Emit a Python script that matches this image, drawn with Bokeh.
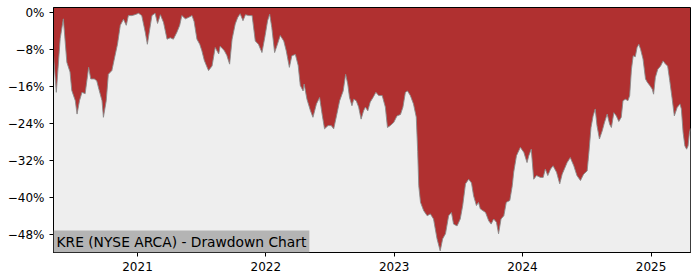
from bokeh.plotting import figure
from bokeh.models import Range1d, FixedTicker, Label, DatetimeTickFormatter, ColumnDataSource
from bokeh.embed import file_html
from bokeh.resources import INLINE
import pandas as pd

dates = [
    "2020-05-07", "2020-05-15", "2020-05-26", "2020-06-04", "2020-06-14", "2020-06-23", "2020-06-28",
    "2020-07-08", "2020-07-13", "2020-07-20", "2020-07-27", "2020-08-05", "2020-08-15", "2020-08-21",
    "2020-08-31", "2020-09-07", "2020-09-13", "2020-09-22", "2020-09-26", "2020-10-04", "2020-10-10",
    "2020-10-20", "2020-10-30", "2020-11-05", "2020-11-13", "2020-11-22", "2020-11-30", "2020-12-06",
    "2020-12-16", "2020-12-25", "2021-01-04", "2021-01-13", "2021-01-23", "2021-01-29", "2021-02-04",
    "2021-02-11", "2021-02-20", "2021-02-27", "2021-03-07", "2021-03-16", "2021-03-26", "2021-04-04",
    "2021-04-13", "2021-04-23", "2021-05-01", "2021-05-07", "2021-05-17", "2021-05-26", "2021-06-05",
    "2021-06-11", "2021-06-19", "2021-06-27", "2021-07-03", "2021-07-10", "2021-07-18", "2021-07-22",
    "2021-08-01", "2021-08-10", "2021-08-20", "2021-08-24", "2021-09-05", "2021-09-12", "2021-09-20",
    "2021-09-27", "2021-10-06", "2021-10-13", "2021-10-20", "2021-10-28", "2021-11-04", "2021-11-13",
    "2021-11-23", "2021-12-02", "2021-12-11", "2021-12-21", "2021-12-30", "2022-01-06", "2022-01-12",
    "2022-01-18", "2022-01-26", "2022-02-03", "2022-02-11", "2022-02-21", "2022-02-28", "2022-03-09",
    "2022-03-16", "2022-03-26", "2022-04-03", "2022-04-09", "2022-04-17", "2022-04-20", "2022-04-28",
    "2022-05-08", "2022-05-15", "2022-05-25", "2022-06-03", "2022-06-10", "2022-06-17", "2022-06-27",
    "2022-07-06", "2022-07-13", "2022-07-21", "2022-07-30", "2022-08-09", "2022-08-16", "2022-08-22",
    "2022-08-27", "2022-09-03", "2022-09-08", "2022-09-15", "2022-09-22", "2022-09-29", "2022-10-06",
    "2022-10-11", "2022-10-18", "2022-10-25", "2022-11-02", "2022-11-10", "2022-11-18", "2022-11-28",
    "2022-12-07", "2022-12-13", "2022-12-21", "2022-12-31", "2023-01-09", "2023-01-19", "2023-01-26",
    "2023-02-02", "2023-02-08", "2023-02-16", "2023-02-25", "2023-03-05", "2023-03-09", "2023-03-12",
    "2023-03-17", "2023-03-26", "2023-04-05", "2023-04-14", "2023-04-23", "2023-05-03", "2023-05-12",
    "2023-05-19", "2023-05-27", "2023-06-05", "2023-06-13", "2023-06-19", "2023-06-29", "2023-07-08",
    "2023-07-15", "2023-07-23", "2023-08-01", "2023-08-09", "2023-08-15", "2023-08-23", "2023-08-29",
    "2023-09-03", "2023-09-18", "2023-09-27", "2023-10-04", "2023-10-11", "2023-10-19", "2023-10-25",
    "2023-11-01", "2023-11-09", "2023-11-16", "2023-11-26", "2023-12-03", "2023-12-07", "2023-12-15",
    "2023-12-26", "2024-01-05", "2024-01-14", "2024-01-19", "2024-01-26", "2024-02-02", "2024-02-10",
    "2024-02-21", "2024-02-29", "2024-03-06", "2024-03-13", "2024-03-21", "2024-03-28", "2024-04-07",
    "2024-04-16", "2024-04-23", "2024-05-07", "2024-05-16", "2024-05-26", "2024-06-04", "2024-06-14",
    "2024-06-23", "2024-07-03", "2024-07-08", "2024-07-14", "2024-07-20", "2024-07-26", "2024-07-31",
    "2024-08-07", "2024-08-15", "2024-08-21", "2024-08-29", "2024-09-05", "2024-09-10", "2024-09-17",
    "2024-09-24", "2024-10-01", "2024-10-08", "2024-10-13", "2024-10-20", "2024-10-27", "2024-11-01",
    "2024-11-06", "2024-11-11", "2024-11-17", "2024-11-22", "2024-11-27", "2024-12-02", "2024-12-09",
    "2024-12-16", "2024-12-21", "2024-12-28", "2025-01-04", "2025-01-08", "2025-01-13", "2025-01-20",
    "2025-01-28", "2025-02-04", "2025-02-11", "2025-02-17", "2025-02-23", "2025-03-02", "2025-03-08",
    "2025-03-16", "2025-03-24", "2025-03-28", "2025-04-02", "2025-04-07", "2025-04-12", "2025-04-16",
    "2025-04-20", "2025-04-23",
]

drawdown = [
    -9.2, -17.2, -5.6, -1.3, -10.7, -12.8, -16.8,
    -19.0, -21.9, -19.0, -17.2, -17.5, -11.8, -14.3,
    -14.3, -14.7, -16.5, -19.0, -22.6, -19.0, -13.3,
    -12.5, -8.9, -6.8, -2.7, -1.4, -2.7, -0.6,
    -0.6, -0.4, -0.1, -0.6, -4.2, -6.8, -3.9,
    -0.6, -0.1, -2.3, -0.4, -2.1, -5.7, -5.4,
    -5.7, -4.2, -2.7, -0.6, -1.3, -1.0, -0.6,
    -1.9, -5.7, -6.8, -8.2, -10.3, -11.8, -12.5,
    -11.5, -7.5, -8.9, -7.2, -8.2, -9.2, -11.1,
    -5.7, -2.4, -1.0, -0.2, -1.7, -0.4, -0.6,
    -0.6, -6.1, -6.8, -8.6, -4.9, -1.7, -0.3,
    -3.2, -8.6, -6.8, -4.9, -6.1, -8.2, -11.8,
    -9.3, -9.0, -11.4, -15.7, -16.9, -15.4, -18.7,
    -21.2, -22.6, -19.7, -18.3, -21.9, -25.1, -24.4,
    -24.4, -25.1, -22.3, -19.0, -16.9, -13.3, -15.4,
    -18.3, -20.1, -18.7, -19.0, -20.4, -23.0, -21.2,
    -20.4, -21.2, -19.3, -18.3, -17.2, -17.9, -17.9,
    -20.4, -24.8, -24.4, -23.7, -22.3, -22.0, -20.4,
    -17.2, -16.9, -17.9, -19.7, -22.6, -30.0, -37.4,
    -41.0, -42.8, -43.9, -43.5, -44.6, -48.9, -51.5,
    -48.9, -47.8, -43.9, -43.2, -45.7, -46.1, -44.6,
    -41.7, -37.0, -36.0, -36.8, -39.6, -41.7, -41.0,
    -42.4, -43.2, -45.0, -45.7, -44.6, -45.3, -47.8,
    -44.6, -43.9, -41.0, -40.6, -37.4, -34.5, -30.9,
    -29.1, -30.2, -32.4, -30.9, -29.5, -36.0, -35.2,
    -35.6, -35.6, -33.8, -35.2, -33.8, -33.1, -34.5,
    -37.0, -34.9, -32.4, -31.3, -33.1, -35.2, -36.3,
    -34.9, -34.2, -30.2, -24.8, -22.3, -20.8, -24.4,
    -27.3, -25.5, -23.8, -21.9, -24.1, -24.8, -21.6,
    -22.3, -23.5, -22.6, -19.0, -18.7, -19.0, -17.9,
    -12.2, -9.3, -9.5, -7.5, -6.8, -7.9, -10.0,
    -14.3, -15.0, -15.7, -16.5, -17.6, -14.0, -12.2,
    -11.5, -10.4, -11.1, -11.5, -14.7, -18.7, -22.3,
    -20.5, -19.7, -20.8, -25.9, -28.8, -29.5, -28.8,
    -25.9, -25.0,
]

y_ticks = [0, -8, -16, -24, -32, -40, -48]
y_tick_labels = ["0%", "\u22128%", "\u221216%", "\u221224%", "\u221232%", "\u221240%", "\u221248%"]
year_ticks = ["2021-01-01", "2022-01-01", "2023-01-01", "2024-01-01", "2025-01-01"]

title_text = "KRE (NYSE ARCA) - Drawdown Chart"

df = pd.DataFrame({"date": pd.to_datetime(dates), "dd": drawdown})
src = ColumnDataSource(df)

y_top, y_bottom = 1.15, -51.85

p = figure(
    width=700, height=280,
    x_axis_type="datetime",
    x_range=Range1d(df["date"].iloc[0], df["date"].iloc[-1]),
    y_range=Range1d(y_bottom, y_top),
    output_backend="svg", toolbar_location=None,
    min_border_left=53, min_border_right=10, min_border_top=7, min_border_bottom=28,
)
p.background_fill_color = "#b03030"
p.border_fill_color = "white"
p.outline_line_color = "black"
p.outline_line_width = 1
p.xgrid.visible = False
p.ygrid.visible = False

p.varea(x="date", y1=y_bottom, y2="dd", source=src, fill_color="#eeeeee")
p.line(x="date", y="dd", source=src, line_color="#8a8a8a", line_width=0.9)

p.yaxis.ticker = FixedTicker(ticks=y_ticks)
p.yaxis.major_label_overrides = {t: l for t, l in zip(y_ticks, y_tick_labels)}
p.xaxis.ticker = FixedTicker(ticks=[pd.Timestamp(s).value // 10**6 for s in year_ticks])
p.xaxis.formatter = DatetimeTickFormatter(years="%Y", months="%Y", days="%Y", hours="%Y")

for ax in (p.xaxis[0], p.yaxis[0]):
    ax.axis_line_color = "black"
    ax.major_tick_line_color = "black"
    ax.major_tick_out = 4
    ax.major_tick_in = 0
    ax.minor_tick_line_color = None
    ax.major_label_text_font = "DejaVu Sans"
    ax.major_label_text_font_size = "12px"
    ax.major_label_text_color = "black"
    ax.major_label_standoff = 5

lab = Label(
    x=0, y=0, x_units="screen", y_units="screen",
    text=title_text, text_font="DejaVu Sans", text_font_size="13.8px",
    text_color="black", background_fill_color="#b4b4b4",
    text_baseline="bottom", text_align="left", padding=3,
)
p.add_layout(lab)

open("out.html", "w").write(file_html(p, INLINE))
